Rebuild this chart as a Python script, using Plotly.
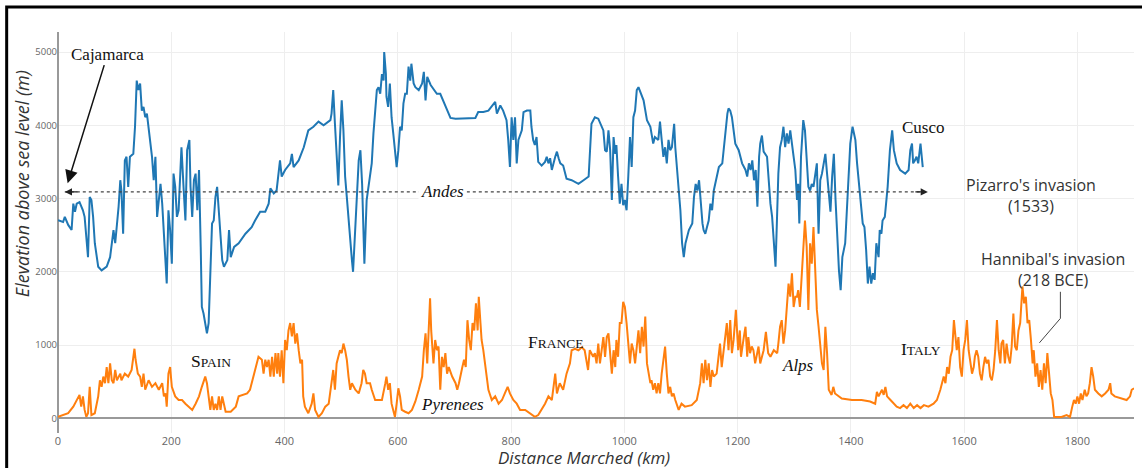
import plotly.graph_objects as go

# ---- Data: Pizarro's march through the Andes (km, m) ----
andes_km = [0, 9, 12, 18, 24, 27, 30, 33, 38, 44, 47, 53, 56, 59, 62, 65, 71, 77, 86, 92, 98, 101, 107, 110, 112, 115, 118, 121, 124, 127, 133, 136, 139, 142, 145, 148, 151, 154, 157, 163, 166, 169, 172, 175, 181, 184, 187, 190, 192, 195, 198, 201, 204, 207, 210, 213, 218, 222, 225, 228, 232, 234, 237, 240, 243, 246, 249, 252, 254, 257, 260, 263, 266, 269, 272, 275, 278, 281, 284, 287, 290, 293, 299, 302, 305, 311,
            319, 331, 342, 348, 357, 366, 372, 375, 381, 386, 392, 395, 401, 410, 413, 416, 425, 434, 442, 451, 460, 469, 481, 483, 486, 489, 492, 495, 498, 501, 504, 507, 510, 513, 516, 519, 521, 525, 528, 531, 534, 537, 540, 541, 545, 551, 554, 557, 563, 566, 569, 572, 575, 576, 579, 580, 583, 586, 589, 592, 595, 598, 601, 604, 607, 610, 613, 616, 619, 622, 624, 628,
            631, 637, 643, 646, 649, 652, 658, 664, 669, 675, 681, 687, 693, 702, 720, 737, 742, 751, 760, 772, 775, 781, 786, 792, 795, 798, 801, 804, 807, 810, 813, 819, 822, 828, 834, 836, 839, 842, 845, 848, 854, 860, 863, 866, 869, 872, 878, 881, 884, 887, 892, 898, 907, 919, 928, 937, 942, 948,
            954, 960, 963, 966, 969, 972, 975, 978, 981, 984, 986, 989, 992, 995, 998, 1001, 1004, 1007, 1010, 1013, 1016, 1019, 1022, 1025, 1028, 1034, 1040, 1046, 1051, 1054, 1060, 1063, 1066, 1069, 1072, 1075, 1078, 1081, 1084, 1088, 1090, 1093, 1096, 1099, 1102, 1105, 1108, 1114, 1120, 1123, 1126, 1129, 1132, 1135, 1138, 1140, 1143, 1146, 1149, 1152, 1155, 1158, 1164, 1167, 1173, 1176, 1179, 1182, 1184, 1187, 1190, 1193, 1196, 1202, 1208, 1214, 1217, 1220, 1223, 1226, 1229, 1232, 1235, 1238, 1240, 1243, 1246, 1252, 1255, 1258, 1261, 1264, 1267,
            1269, 1272, 1275, 1278, 1281, 1284, 1287, 1290, 1293, 1296, 1299, 1302, 1305, 1307, 1309, 1312, 1316, 1319, 1322, 1325, 1328, 1331, 1334, 1337, 1340, 1343, 1346, 1349, 1352, 1355, 1358, 1361, 1364, 1367, 1370, 1373, 1376, 1379, 1382, 1385, 1390, 1393, 1396, 1399, 1403, 1408, 1411, 1414, 1418, 1421, 1424, 1427, 1430, 1433, 1436, 1439, 1442, 1445, 1449, 1451, 1454, 1456, 1460, 1465, 1469, 1473, 1476, 1481, 1487, 1496, 1502, 1505, 1508, 1510, 1513, 1516, 1519, 1523, 1527]
andes_elev = [2705, 2680, 2750, 2640, 2570, 2930, 2820, 2930, 2950, 2840, 2750, 2200, 3020, 2980, 2750, 2390, 2070, 2020, 2070, 2200, 2570, 2390, 2890, 3250, 3110, 2520, 3520, 3570, 3160, 3570, 3610, 3980, 4610, 4480, 4570, 4200, 4250, 4110, 4160, 3750, 3570, 3250, 3570, 2750, 3200, 2930, 2480, 2110, 1840, 2840, 2570, 2110, 3340, 3160, 2750, 2840, 3700, 3110, 2700, 3660, 3800, 3160, 2750, 3250, 3340, 2840, 3390, 2340, 1520, 1430, 1300, 1160, 1300, 2110, 2660, 2700, 3020, 3160, 2790, 2570, 2160, 2070, 2160, 2570, 2200, 2340,
              2390, 2520, 2610, 2700, 2820, 2820, 2930, 3140, 3070, 3110, 3520, 3300, 3390, 3480, 3610, 3430, 3520, 3700, 3930, 3980, 4050, 4000, 4070, 4160, 4480, 4020, 3570, 3180, 3840, 4340, 3930, 3300, 3020, 2700, 2390, 2160, 2000, 2660, 3110, 3520, 3660, 3200, 2390, 2110, 2980, 3300, 3480, 3890, 4480, 4520, 4430, 4700, 4610, 5000, 4700, 4390, 4250, 4570, 4110, 3890, 3660, 3430, 3660, 3980, 3930, 4300, 4430, 4430, 4800, 4610, 4840, 4570,
              4520, 4480, 4570, 4730, 4340, 4660, 4550, 4480, 4430, 4430, 4320, 4200, 4100, 4090, 4090, 4100, 4180, 4180, 4200, 4320, 4160, 4270, 4200, 4070, 3800, 3430, 4110, 3800, 4110, 3480, 3800, 3930, 4180, 4200, 4200, 3980, 3800, 3730, 3840, 3500, 3450, 3500, 3570, 3480, 3550, 3390, 3570, 3640, 3550, 3480, 3450, 3270, 3250, 3200, 3250, 3300, 4020, 4110,
              4090, 3980, 3930, 3660, 3640, 3930, 3660, 2980, 3840, 3610, 3730, 3300, 2930, 3200, 2910, 2980, 2840, 3300, 3840, 3430, 4110, 4200, 4480, 4520, 4450, 4340, 4070, 3980, 3750, 3840, 3800, 4050, 3800, 3570, 3700, 3480, 3800, 3660, 3700, 4020, 3700, 3390, 3110, 2840, 2390, 2200, 2390, 2570, 2660, 3020, 3200, 3110, 3250, 2930, 2660, 2570, 2520, 2610, 2700, 2930, 2840, 3110, 3340, 3430, 3480, 3700, 3980, 4160, 4230, 4200, 4110, 3930, 3750, 3660, 3480, 3390, 3300, 3480, 3390, 3520, 3250, 3390, 2890, 3570, 3750, 3860, 3640, 3570, 3200, 2930, 2750, 2390, 2070,
              2570, 3340, 3700, 3800, 3980, 3700, 3890, 3750, 3930, 3700, 3570, 3390, 2980, 3200, 2660, 3570, 4070, 3930, 3610, 3160, 3110, 3200, 3160, 3300, 3480, 2520, 3250, 3340, 3480, 3610, 3340, 3020, 2820, 3300, 3610, 2980, 2480, 2020, 1750, 2200, 2390, 2840, 3340, 3750, 3980, 3800, 3480, 3200, 2930, 2660, 2610, 2300, 1840, 2070, 1840, 1980, 1890, 2390, 2200, 2570, 2520, 2700, 2750, 3160, 3660, 3930, 3660, 3480, 3390, 3340, 3390, 3660, 3750, 3480, 3520, 3570, 3480, 3750, 3430]

# ---- Data: Hannibal's march over the Alps (km, m) ----
hannibal_km = [0, 9, 18, 27, 36, 38, 41, 44, 47, 50, 53, 56, 59, 65, 71, 74, 77, 80, 83, 86, 89, 92, 95, 98, 101, 104, 110, 112, 118, 124, 130, 133, 135, 137, 141, 145, 148, 151, 154, 160, 166, 172, 178, 184, 187, 190, 192, 195, 198, 201, 207, 213, 219, 225, 231, 237, 243, 249, 254, 260, 263, 266, 269, 272, 275, 278, 281, 284, 287, 290, 296, 305, 314,
               319, 325, 334, 339, 345, 351, 354, 360, 363, 366, 369, 372, 375, 378, 381, 384, 387, 389, 392, 395, 398, 401, 404, 407, 410, 413, 416, 419, 422, 425, 428, 431, 433, 436, 442, 448, 451, 454, 460, 466, 472, 478, 483, 486, 489, 492, 495, 498, 501, 504, 507, 510, 513, 516, 519, 525, 531, 536, 539, 542, 545, 551, 554, 560, 566, 572, 578, 580, 583, 586, 589, 592, 595, 598, 601, 604, 607, 613, 619, 625,
               631, 637, 643, 646, 649, 652, 655, 657, 659, 661, 663, 666, 669, 672, 675, 678, 681, 684, 687, 690, 696, 702, 705, 708, 711, 714, 717, 720, 723, 726, 729, 732, 735, 738, 741, 743, 746, 748, 751, 754, 757, 760, 766, 772, 778, 784, 789, 794, 798, 804, 810, 816, 825, 834, 842, 848, 854, 860, 866, 872, 878, 881, 886, 892, 898, 904, 907, 913, 919, 925, 930, 936, 939, 945,
               948, 951, 954, 957, 960, 963, 966, 969, 972, 975, 978, 981, 984, 986, 989, 992, 995, 998, 1001, 1004, 1007, 1010, 1013, 1016, 1019, 1022, 1025, 1028, 1031, 1034, 1037, 1040, 1043, 1046, 1048, 1051, 1054, 1057, 1060, 1063, 1066, 1069, 1072, 1075, 1078, 1081, 1084, 1087, 1090, 1096, 1101, 1107, 1119, 1128, 1134, 1137, 1140, 1143, 1146, 1149, 1152, 1155, 1158, 1163, 1169, 1172, 1175, 1178, 1181, 1184, 1187, 1190, 1193, 1197, 1201, 1204, 1206, 1211, 1214, 1217, 1219, 1222, 1225, 1228, 1231, 1237, 1240, 1246, 1250, 1254, 1258, 1264,
               1270, 1272, 1275, 1278, 1281, 1284, 1287, 1290, 1293, 1296, 1299, 1302, 1305, 1307, 1310, 1313, 1316, 1319, 1322, 1325, 1328, 1331, 1334, 1337, 1340, 1343, 1346, 1349, 1352, 1355, 1358, 1361, 1366, 1369, 1372, 1384, 1402, 1419, 1434, 1443, 1446, 1449, 1455, 1458, 1461, 1464, 1470, 1476, 1481, 1487, 1493, 1499, 1505, 1511, 1517, 1523, 1529, 1537, 1546, 1552, 1558, 1564, 1567, 1570, 1573, 1576, 1579, 1582,
               1587, 1590, 1593, 1596, 1599, 1602, 1605, 1608, 1611, 1614, 1617, 1619, 1622, 1625, 1628, 1631, 1634, 1637, 1640, 1643, 1646, 1649, 1652, 1655, 1658, 1661, 1664, 1666, 1669, 1672, 1675, 1678, 1681, 1684, 1687, 1690, 1693, 1696, 1699, 1702, 1703, 1706, 1709, 1712, 1715, 1718, 1721, 1723, 1726, 1729, 1732, 1735, 1738, 1741, 1744, 1747, 1750, 1753, 1756, 1759, 1763, 1772, 1781, 1787, 1791, 1794, 1797, 1800, 1803, 1806, 1809, 1813, 1816, 1819, 1822, 1825, 1828, 1831, 1837, 1843, 1849, 1855, 1858, 1860, 1866, 1878, 1887, 1893, 1896, 1900]
hannibal_elev = [20, 45, 70, 160, 300, 320, 160, 300, 115, 20, 70, 430, 45, 70, 300, 520, 430, 570, 480, 700, 480, 750, 520, 480, 660, 520, 610, 520, 610, 570, 660, 800, 950, 800, 610, 570, 430, 610, 390, 520, 430, 480, 390, 480, 300, 340, 160, 610, 700, 430, 300, 250, 250, 200, 160, 115, 200, 300, 430, 570, 480, 300, 115, 300, 115, 200, 115, 300, 115, 300, 90, 90, 160,
                 300, 320, 340, 390, 570, 750, 840, 800, 610, 800, 700, 800, 570, 840, 570, 890, 610, 890, 570, 930, 480, 1070, 930, 1200, 1300, 1120, 1300, 1020, 1160, 930, 750, 800, 300, 160, 70, 200, 340, 115, 20, 70, 160, 200, 480, 660, 390, 750, 840, 930, 890, 1020, 930, 800, 570, 390, 480, 390, 340, 480, 660, 610, 480, 480, 390, 250, 250, 250, 480, 570, 390, 480, 200, 115, 20, 200, 410, 300, 115, 90, 70, 115,
                 230, 390, 570, 930, 1160, 750, 1300, 1640, 1200, 1020, 750, 1070, 930, 980, 390, 840, 700, 890, 610, 700, 570, 480, 390, 480, 570, 700, 800, 700, 1340, 1070, 930, 1300, 1200, 1570, 1200, 1660, 1300, 1070, 930, 750, 570, 390, 250, 300, 200, 250, 340, 430, 340, 250, 200, 115, 115, 70, 20, 45, 115, 200, 300, 250, 610, 340, 480, 390, 610, 750, 930, 950, 930, 970, 930, 660, 930, 840,
                 890, 750, 1020, 750, 930, 1110, 840, 1110, 1160, 840, 610, 930, 700, 1070, 840, 1300, 1300, 1590, 1520, 1300, 1070, 750, 1020, 930, 750, 980, 1200, 890, 1250, 980, 1390, 750, 610, 480, 520, 390, 480, 340, 480, 340, 610, 800, 980, 610, 340, 430, 300, 340, 250, 115, 200, 160, 180, 250, 480, 750, 480, 800, 520, 750, 430, 660, 570, 610, 1020, 700, 930, 1110, 1300, 930, 1340, 890, 1070, 1480, 930, 1200, 840, 1110, 1250, 840, 1110, 890, 980, 930, 750, 980, 750, 930, 1180, 890, 840, 930,
                 890, 1020, 1250, 1340, 1020, 1200, 1480, 1840, 1660, 1980, 1520, 1660, 1660, 1750, 1520, 1930, 2160, 2700, 2340, 1480, 2390, 2110, 2610, 1930, 1480, 1250, 930, 750, 660, 1250, 890, 390, 320, 430, 340, 270, 250, 250, 230, 200, 360, 300, 390, 320, 430, 300, 250, 200, 160, 140, 180, 140, 200, 140, 180, 140, 180, 160, 200, 250, 390, 570, 480, 700, 610, 840, 930, 1340,
                 930, 1110, 700, 570, 930, 1070, 1340, 930, 750, 610, 700, 840, 930, 840, 610, 520, 700, 840, 750, 800, 570, 520, 660, 930, 1340, 930, 750, 1020, 1070, 750, 1020, 840, 750, 980, 1430, 980, 930, 1200, 1300, 1700, 1800, 1570, 1660, 1300, 1340, 1070, 750, 930, 570, 750, 430, 660, 390, 750, 480, 890, 610, 340, 250, 20, 20, 20, 45, 20, 160, 250, 200, 300, 200, 340, 250, 390, 300, 340, 480, 700, 570, 390, 340, 300, 340, 390, 480, 340, 300, 270, 250, 300, 390, 410]

x_ticks = [0, 200, 400, 600, 800, 1000, 1200, 1400, 1600, 1800]
y_ticks = [0, 1000, 2000, 3000, 4000, 5000]

SERIF = "Liberation Serif, DejaVu Serif, serif"
SANS = "Open Sans, Verdana, Arial, sans-serif"

fig = go.Figure()
fig.add_trace(go.Scatter(x=andes_km, y=andes_elev, mode="lines", name="Pizarro",
                         line=dict(color="#1f77b4", width=2), hoverinfo="x+y"))
fig.add_trace(go.Scatter(x=hannibal_km, y=hannibal_elev, mode="lines", name="Hannibal",
                         line=dict(color="#ff7f0e", width=2), hoverinfo="x+y"))


def label(text, x, y, size=17, family=SERIF, color="#111", **kw):
    return dict(text=text, x=x, y=y, xref="x", yref="y", showarrow=False,
                xanchor="center", yanchor="middle",
                font=dict(family=family, size=size, color=color), **kw)


def smallcaps(word, small=13.5):
    return word[0] + "<span style='font-size:%spx'>%s</span>" % (small, word[1:].upper())


annotations = [
    # Cajamarca with arrow
    dict(text="Cajamarca", x=17, y=3210, xref="x", yref="y", ax=40, ay=-129,
         showarrow=True, arrowhead=2, arrowsize=1.7, arrowwidth=1.5, arrowcolor="#111",
         font=dict(family=SERIF, size=17, color="#111")),
    # arrowheads on Andes dashed line
    dict(text="", x=12, y=3090, xref="x", yref="y", ax=14, ay=0, showarrow=True,
         arrowhead=2, arrowsize=1.2, arrowwidth=1.2, arrowcolor="#222"),
    dict(text="", x=1536, y=3090, xref="x", yref="y", ax=-14, ay=0, showarrow=True,
         arrowhead=2, arrowsize=1.2, arrowwidth=1.2, arrowcolor="#222"),
    label("<i>Andes</i>", 679, 3090, bgcolor="white", borderpad=2),
    label("Cusco", 1529, 3965),
    label(smallcaps("Spain"), 270, 782, size=17.5),
    label(smallcaps("France"), 879, 1045, size=17.5),
    label(smallcaps("Italy"), 1524, 945, size=17.5),
    label("<i>Pyrenees</i>", 696, 195),
    label("<i>Alps</i>", 1307, 727),
    label("Pizarro's invasion<br>(1533)", 1718, 3041, size=16, family=SANS, color="#333"),
    label("Hannibal's invasion<br>(218 BCE)", 1757, 2027, size=16, family=SANS, color="#333"),
    # axis titles
    dict(text="<i>Elevation above sea level (m)</i>", x=-0.0335, y=0.623, xref="paper", yref="paper",
         xanchor="center", yanchor="middle",
         textangle=-90, showarrow=False, font=dict(family=SANS, size=18, color="#333")),
    dict(text="<i>Distance Marched (km)</i>", x=0.489, y=-0.062, xref="paper", yref="paper",
         xanchor="center", yanchor="middle",
         showarrow=False, font=dict(family=SANS, size=17, color="#333")),
]

shapes = [
    dict(type="line", xref="x", yref="y", x0=12, x1=1536, y0=3090, y1=3090,
         line=dict(color="#444", width=1.2, dash="dot")),
    dict(type="path", xref="x", yref="y", path="M 1770 1727 L 1770 1364 L 1733 1031",
         line=dict(color="#444", width=1)),
    dict(type="rect", xref="paper", yref="paper", x0=-0.0477, x1=1.015, y0=-0.12, y1=1.0623,
         line=dict(color="black", width=3), layer="above"),
]

fig.update_layout(
    width=1142, height=468,
    margin=dict(l=58, r=8, t=32, b=35, autoexpand=False),
    paper_bgcolor="white", plot_bgcolor="white",
    showlegend=False,
    font=dict(family=SANS, color="#444"),
    annotations=annotations,
    shapes=shapes,
    xaxis=dict(range=[0, 1900], tickvals=x_ticks, showgrid=True, gridcolor="#eee",
               zeroline=True, zerolinecolor="#999", zerolinewidth=1.5,
               tickfont=dict(size=11, color="#666"), showline=False),
    yaxis=dict(range=[-200, 5273], tickvals=y_ticks, showgrid=True, gridcolor="#eee",
               zeroline=True, zerolinecolor="#999", zerolinewidth=1.5,
               tickfont=dict(size=9.5, color="#666"), showline=False),
)

fig.write_html("out.html", config={"displayModeBar": False},
               post_script="document.body.style.margin='0';document.body.style.overflow='hidden';")
